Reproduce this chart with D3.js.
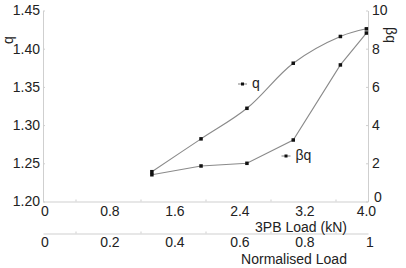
<!DOCTYPE html>
<html><head><meta charset="utf-8">
<script src="https://cdn.jsdelivr.net/npm/d3@7"></script>
<style>
body{margin:0;background:#fff;}
text{font-family:"Liberation Sans",Arial,sans-serif;fill:#222;}
</style></head>
<body><svg id="c" width="406" height="268"></svg>
<script>
const loadKN = [1.34, 1.945, 2.51, 3.08, 3.66, 3.98];
const qValues = [1.239, 1.282, 1.322, 1.381, 1.416, 1.426];
const bqValues = [1.4, 1.86, 2.0, 3.22, 7.15, 8.82];
const xTicks = [0, 0.8, 1.6, 2.4, 3.2, 4.0];
const xTickLabels = ["0", "0.8", "1.6", "2.4", "3.2", "4.0"];
const normTicks = [0, 0.2, 0.4, 0.6, 0.8, 1];
const normTickLabels = ["0", "0.2", "0.4", "0.6", "0.8", "1"];
const qTicks = [1.20, 1.25, 1.30, 1.35, 1.40, 1.45];
const bqTicks = [0, 2, 4, 6, 8, 10];

const svg = d3.select("#c");
const L = 43, R = 368, T = 10.5, B = 201.5, B2 = 233.5;
const x = d3.scaleLinear().domain([0, 4]).range([L, R]);
const xn = d3.scaleLinear().domain([0, 1]).range([L, R]);
const yq = d3.scaleLinear().domain([1.20, 1.45]).range([B, T]);
const yb = d3.scaleLinear().domain([0, 10]).range([B, T]);
const axisCol = "#cfcfcf", lineCol = "#8a8a8a";

function styleAxis(g){
  g.select(".domain").attr("stroke", axisCol).attr("stroke-width", 1);
  g.selectAll(".tick line").attr("stroke", axisCol);
  g.selectAll(".tick text").style("font-size", "14px").attr("fill", "#222");
}

// left axis
const gl = svg.append("g").attr("transform", `translate(${L},0)`)
  .call(d3.axisLeft(yq).tickValues(qTicks).tickFormat(d3.format(".2f")).tickSizeInner(-2).tickSizeOuter(0).tickPadding(4));
styleAxis(gl);
gl.selectAll(".tick text").attr("x", -3);

// right axis
const gr = svg.append("g").attr("transform", `translate(${R},0)`)
  .call(d3.axisRight(yb).tickValues(bqTicks).tickFormat(d3.format("d")).tickSizeInner(-2).tickSizeOuter(0));
styleAxis(gr);
gr.selectAll(".tick text").attr("x", 4);
gr.selectAll(".tick").filter(d => d === 0).select("text").attr("dy", "0.02em").attr("x", 6);

// bottom axis (kN)
const gb = svg.append("g").attr("transform", `translate(0,${B})`)
  .call(d3.axisBottom(x).tickValues(xTicks).tickFormat((d,i) => xTickLabels[i]).tickSizeInner(0).tickSizeOuter(0).tickPadding(5));
styleAxis(gb);
gb.selectAll(".tick text").attr("dx", "0.1em");
gb.selectAll(".tick").filter(d => d === 4).select("text").attr("dx", "-0.15em");
// minor ticks
const gbm = svg.append("g").attr("transform", `translate(0,${B})`)
  .call(d3.axisBottom(x).tickValues(d3.range(0.4, 4, 0.8)).tickFormat("").tickSizeInner(-2).tickSizeOuter(0));
gbm.select(".domain").remove();
gbm.selectAll(".tick line").attr("stroke", axisCol);

// normalised axis
const gn = svg.append("g").attr("transform", `translate(0,${B2})`)
  .call(d3.axisBottom(xn).tickValues(normTicks).tickFormat((d,i) => normTickLabels[i]).tickSizeInner(0).tickSizeOuter(0).tickPadding(4));
styleAxis(gn);
gn.selectAll(".tick text").attr("dx", "0.1em");
const gnm = svg.append("g").attr("transform", `translate(0,${B2})`)
  .call(d3.axisBottom(xn).tickValues([0.1,0.3,0.5,0.7,0.9]).tickFormat("").tickSizeInner(-2).tickSizeOuter(0));
gnm.select(".domain").remove();
gnm.selectAll(".tick line").attr("stroke", axisCol);

// axis titles
svg.append("text").attr("x", 301).attr("y", 231.5).attr("text-anchor", "middle").style("font-size", "14px").text("3PB Load (kN)");
svg.append("text").attr("x", 294).attr("y", 264).attr("text-anchor", "middle").style("font-size", "14px").text("Normalised Load");
svg.append("text").attr("transform", "translate(13,40) rotate(-90)").attr("text-anchor", "middle").style("font-size", "14px").text("q");
svg.append("text").attr("transform", "translate(386,35) rotate(90)").attr("text-anchor", "middle").style("font-size", "14px").text("βq");

// lines
const qData = loadKN.map((v,i) => [v, qValues[i]]);
const bData = loadKN.map((v,i) => [v, bqValues[i]]);
svg.append("path").datum(qData).attr("fill", "none").attr("stroke", lineCol).attr("stroke-width", 1.1)
  .attr("d", d3.line().x(d => x(d[0])).y(d => yq(d[1])).curve(d3.curveCatmullRom.alpha(0.5)));
svg.append("path").datum(bData).attr("fill", "none").attr("stroke", lineCol).attr("stroke-width", 1.1)
  .attr("d", d3.line().x(d => x(d[0])).y(d => yb(d[1])).curve(d3.curveLinear));

const ms = 3.5;
svg.selectAll(".mq").data(qData).enter().append("rect")
  .attr("x", d => x(d[0]) - ms/2).attr("y", d => yq(d[1]) - ms/2).attr("width", ms).attr("height", ms).attr("fill", "#111");
svg.selectAll(".mb").data(bData).enter().append("rect")
  .attr("x", d => x(d[0]) - ms/2).attr("y", d => yb(d[1]) - ms/2).attr("width", ms).attr("height", ms).attr("fill", "#111");

// legends
function legend(x0, y0, label){
  svg.append("line").attr("x1", x0).attr("x2", x0 + 9).attr("y1", y0).attr("y2", y0).attr("stroke", lineCol).attr("stroke-width", 1.1);
  svg.append("rect").attr("x", x0 + 4.5 - 1.5).attr("y", y0 - 1.5).attr("width", 3).attr("height", 3).attr("fill", "#111");
  svg.append("text").attr("x", x0 + 14).attr("y", y0 + 4).style("font-size", "14px").text(label);
}
legend(238, 84, "q");
legend(281.5, 156, "βq");
</script></body></html>
